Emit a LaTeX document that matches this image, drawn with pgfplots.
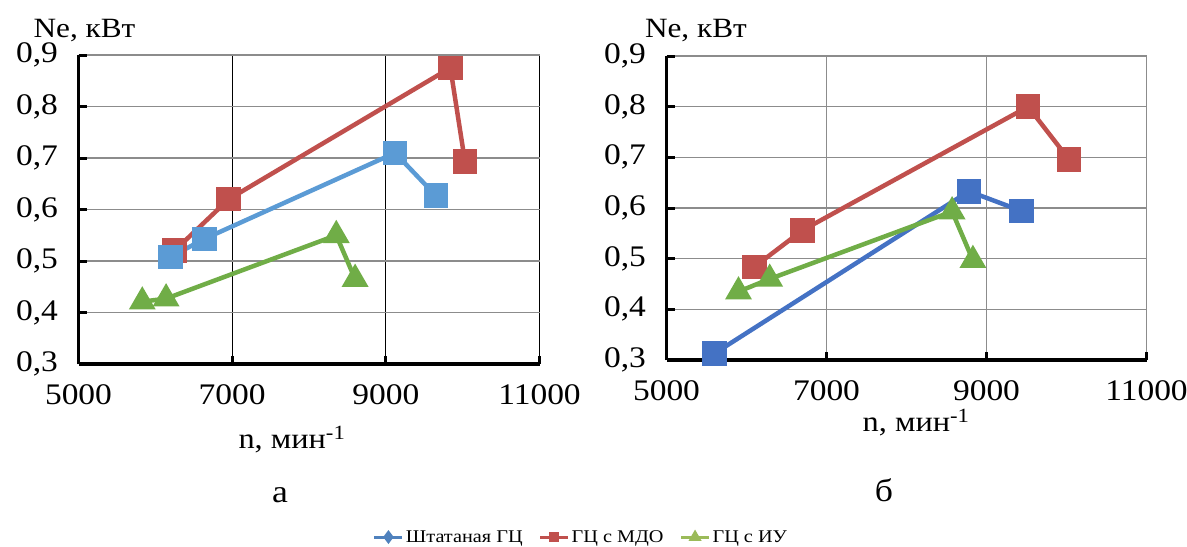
\documentclass[border=0pt]{standalone}
\usepackage{fontspec}
\setmainfont{Liberation Serif}
\newfontfamily\legfont[FakeStretch=1.13]{Liberation Serif}
\newfontfamily\tickfont[FakeStretch=1.12]{Liberation Serif}
\usepackage{pgfplots}
\pgfplotsset{compat=1.18}
\definecolor{blueA}{HTML}{5B9BD5}
\definecolor{blueB}{HTML}{4472C4}
\definecolor{blueL}{HTML}{4F81BD}
\definecolor{redA}{HTML}{C0504D}
\definecolor{greenA}{HTML}{70AD47}
\definecolor{greenL}{HTML}{9BBB59}
\definecolor{gridg}{HTML}{8C8C8C}
\pgfplotsset{
  panel/.style={
    scale only axis, anchor=south west, clip=false,
    xmin=5000, xmax=11000, ymin=0.3, ymax=0.9,
    xtick={5000,7000,9000,11000},
    ytick={0.3,0.4,0.5,0.6,0.7,0.8,0.9},
    scaled x ticks=false, scaled y ticks=false,
    axis x line=bottom, axis y line=left,
    axis line style={-, line width=3.5bp, black},
    major tick length=8bp,
    tick style={black, line width=3bp},
    tick align=inside,
    grid=major,
    /pgf/number format/assume math mode=true,
    xticklabel style={font=\tickfont\fontsize{30}{32}\selectfont, yshift=-17bp, /pgf/number format/1000 sep={}},
    yticklabel style={font=\tickfont\fontsize{30}{32}\selectfont, xshift=-17bp,
      /pgf/number format/.cd, use comma, fixed, fixed zerofill, precision=1},
    xlabel style={font=\tickfont\fontsize{29}{30}\selectfont, anchor=base},
    ylabel style={font=\tickfont\fontsize{28}{30}\selectfont, rotate=-90, anchor=base west},
  },
  ser/.style={line width=4.5bp, mark options={solid}},
}
\begin{document}
\begin{tikzpicture}
\path[use as bounding box] (0bp,0bp) rectangle (1187bp,-547bp);
% left panel
\begin{axis}[panel, at={(78.5bp,-364bp)}, width=461bp, height=309bp,
  x grid style={black, line width=1.3bp},
  y grid style={gridg, line width=1.6bp},
  xlabel={n, мин\textsuperscript{-1}},
  xlabel style={at={(axis description cs:0.463,-0.275)}},
  ylabel={Ne, кВт},
  ylabel style={at={(axis description cs:-0.105,1.058)}},
  legend style={draw=none, fill=none, font=\legfont\fontsize{18}{20}\selectfont,
    legend columns=3, at={(axis description cs:1.09,-0.56)}, anchor=center,
    /tikz/every even column/.append style={column sep=14bp},
    legend cell align=left},
  legend image code/.code={\draw[mark repeat=2,mark phase=2,#1] plot coordinates {(0bp,0bp) (14bp,0bp) (28bp,0bp)};},
]
\addlegendimage{blueL, line width=3bp, mark=diamond*, mark size=4.5bp}
\addlegendentry{Штатаная ГЦ}
\addlegendimage{redA, line width=3bp, mark=square*, mark size=3.5bp}
\addlegendentry{ГЦ с МДО}
\addlegendimage{greenL, line width=3bp, mark=triangle*, mark size=4.5bp}
\addlegendentry{ГЦ с ИУ}
\addplot[ser, redA, mark=square*, mark size=10bp, forget plot] coordinates {(6250,0.52) (6955,0.62) (9840,0.875) (10030,0.693)};
\addplot[ser, blueA, mark=square*, mark size=10bp, forget plot] coordinates {(6200,0.508) (6640,0.543) (9120,0.710) (9650,0.627)};
\addplot[ser, greenA, mark=triangle*, mark size=11bp, forget plot] coordinates {(5830,0.421) (6140,0.427) (8355,0.55) (8600,0.465)};
\node[font=\tickfont\fontsize{32}{34}\selectfont, anchor=base] at (axis description cs:0.437,-0.447) {а};
\end{axis}
% right panel
\begin{axis}[panel, at={(666.5bp,-360bp)}, width=480bp, height=304bp,
  grid style={gridg, line width=1.6bp},
  xlabel={n, мин\textsuperscript{-1}},
  xlabel style={at={(axis description cs:0.52,-0.235)}},
  ylabel={Ne, кВт},
  ylabel style={at={(axis description cs:-0.052,1.062)}},
]
\addplot[ser, redA, mark=square*, mark size=10bp] coordinates {(6100,0.484) (6700,0.556) (9520,0.80) (10030,0.696)};
\addplot[ser, blueB, mark=square*, mark size=10bp] coordinates {(5600,0.313) (8780,0.633) (9440,0.594)};
\addplot[ser, greenA, mark=triangle*, mark size=11bp] coordinates {(5900,0.435) (6290,0.46) (8570,0.593) (8830,0.497)};
\node[font=\tickfont\fontsize{32}{34}\selectfont, anchor=base] at (axis description cs:0.453,-0.467) {б};
\end{axis}
\end{tikzpicture}
\end{document}
